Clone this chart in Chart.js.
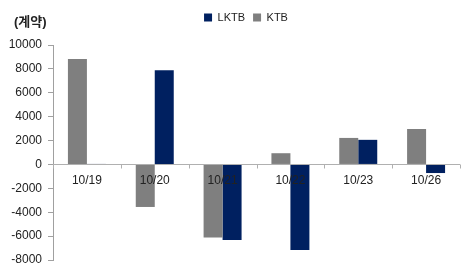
<!DOCTYPE html>
<html>
<head>
<meta charset="utf-8">
<script src="https://cdn.jsdelivr.net/npm/chart.js@4.4.1/dist/chart.umd.min.js"></script>
<style>
  html, body { margin: 0; padding: 0; background: #fff; }
  #wrap { width: 468px; height: 269px; }
</style>
</head>
<body>
<div id="wrap"><canvas id="c" width="468" height="269"></canvas></div>
<script>
const dates = ['10/19', '10/20', '10/21', '10/22', '10/23', '10/26'];
const ktb = [8830, -3560, -6110, 940, 2220, 2970];
const lktb = [30, 7890, -6330, -7170, 2060, -720];
const unitLabel = '(계약)';

const FONT = "'Liberation Sans', Arial, 'Noto Sans CJK KR', sans-serif";

// extra space between the legend and the plot, and nudge legend right
const legendGap = {
  id: 'legendGap',
  beforeInit(chart) {
    const fit = chart.legend.fit;
    chart.legend.fit = function () {
      fit.call(this);
      this.height += 12;
    };
  },
  afterLayout(chart) {
    chart.legend.left += 16;
    chart.legend.right += 16;
  }
};

// category labels sit under the zero line, plus the zero line itself
const zeroAxis = {
  id: 'zeroAxis',
  afterDatasetsDraw(chart) {
    const { ctx, chartArea, scales } = chart;
    const y0 = Math.round(scales.y.getPixelForValue(0)) + 0.5;
    ctx.save();
    ctx.strokeStyle = '#b0b0b0';
    ctx.lineWidth = 1;
    ctx.beginPath();
    ctx.moveTo(chartArea.left, y0);
    ctx.lineTo(chartArea.right, y0);
    const step = (chartArea.right - chartArea.left) / dates.length;
    for (let i = 0; i <= dates.length; i++) {
      const x = Math.round(chartArea.left + step * i) + 0.5;
      ctx.moveTo(x, y0);
      ctx.lineTo(x, y0 + 4);
    }
    ctx.stroke();

    ctx.fillStyle = '#222';
    ctx.font = '12px ' + FONT;
    ctx.textAlign = 'center';
    ctx.textBaseline = 'middle';
    dates.forEach((d, i) => {
      ctx.fillText(d, scales.x.getPixelForValue(i), y0 + 16);
    });

    ctx.font = 'bold 13px ' + FONT;
    ctx.textAlign = 'left';
    ctx.fillText(unitLabel, 14, 22);
    ctx.restore();
  }
};

new Chart(document.getElementById('c'), {
  type: 'bar',
  data: {
    labels: dates,
    datasets: [
      { label: 'KTB', data: ktb, backgroundColor: '#7f7f7f' },
      { label: 'LKTB', data: lktb, backgroundColor: '#002060' }
    ]
  },
  options: {
    responsive: false,
    animation: false,
    layout: { padding: { left: 0, right: 8, top: 4, bottom: 9 } },
    datasets: { bar: { barPercentage: 1, categoryPercentage: 0.56 } },
    plugins: {
      tooltip: { enabled: false },
      legend: {
        position: 'top',
        labels: {
          boxWidth: 8, boxHeight: 8, padding: 8,
          color: '#222',
          font: { size: 11, family: FONT },
          sort: (a, b) => b.datasetIndex - a.datasetIndex
        }
      }
    },
    scales: {
      x: { display: false },
      y: {
        min: -8000, max: 10000,
        afterFit: s => { s.width = 53; s.paddingTop = 0; s.paddingBottom = 0; },
        border: { display: true, color: '#a0a0a0' },
        grid: { drawOnChartArea: false, drawTicks: true, tickLength: 5, color: '#a0a0a0' },
        ticks: {
          stepSize: 2000, color: '#222', padding: 6,
          font: { size: 12, family: FONT },
          callback: v => String(v)
        }
      }
    }
  },
  plugins: [legendGap, zeroAxis]
});
</script>
</body>
</html>
